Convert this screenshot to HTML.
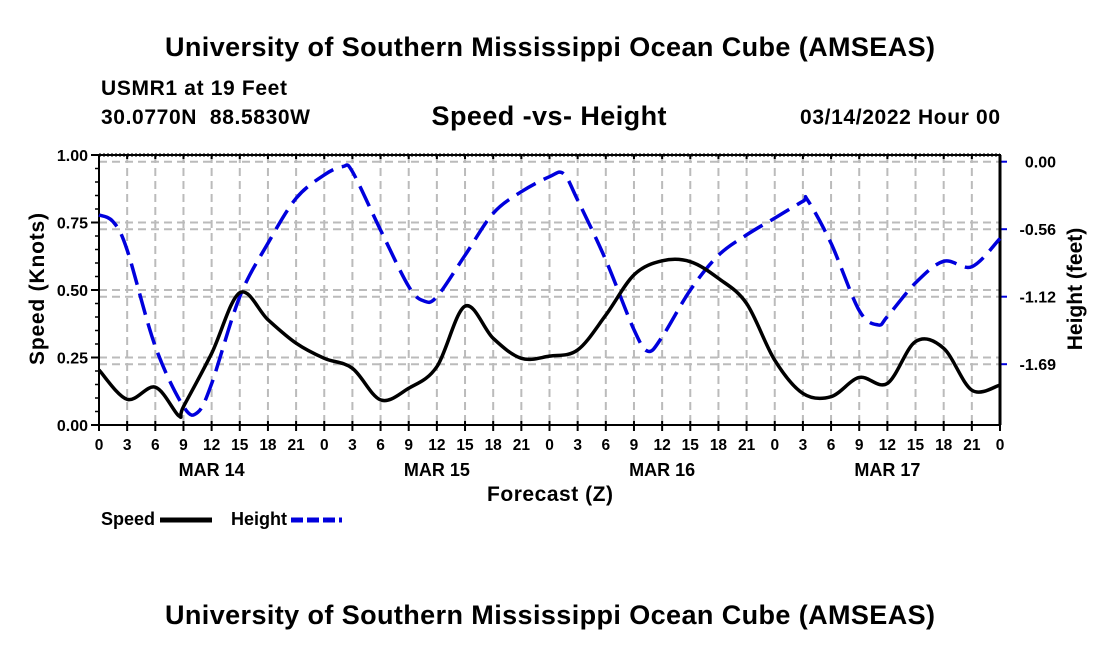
<!DOCTYPE html>
<html><head><meta charset="utf-8"><style>
body{margin:0;background:#fff;}
svg text{font-family:"Liberation Sans",sans-serif;font-weight:bold;}
</style></head><body>
<svg id="c" width="1100" height="650" xmlns="http://www.w3.org/2000/svg">
<text x="550" y="56" font-size="27" text-anchor="middle" textLength="770">University of Southern Mississippi Ocean Cube (AMSEAS)</text>
<text x="101" y="95" font-size="21" textLength="186">USMR1 at 19 Feet</text>
<text x="101" y="124" font-size="21" textLength="209" xml:space="preserve">30.0770N  88.5830W</text>
<text x="549" y="125" font-size="27" text-anchor="middle" textLength="235">Speed -vs- Height</text>
<text x="1000" y="124" font-size="21" text-anchor="end" textLength="200">03/14/2022 Hour 00</text>
<text x="550" y="624" font-size="27" text-anchor="middle" textLength="770">University of Southern Mississippi Ocean Cube (AMSEAS)</text>
<g id="grid"></g><g id="axes"></g><g id="series"></g>
<text x="550" y="501" font-size="21" text-anchor="middle" textLength="126">Forecast (Z)</text>
<text transform="translate(44,289) rotate(-90)" font-size="21" text-anchor="middle" textLength="152">Speed (Knots)</text>
<text transform="translate(1082,289) rotate(-90)" font-size="21" text-anchor="middle">Height (feet)</text>
<g><text x="101" y="525" font-size="18">Speed</text><line x1="160" y1="520" x2="212" y2="520" stroke="#000" stroke-width="5"/></g>
<g><text x="231" y="525" font-size="18">Height</text><line x1="291" y1="520" x2="342" y2="520" stroke="#0000dd" stroke-width="5" stroke-dasharray="12,4"/></g>
</svg>
<script>
const speedHours=[0,3,6,8.5,9,12,15,18,21,24,27,30,33,36,39,42,45,48,51,54,57,60,63,66,69,72,75,78,81,84,87,90,93,96];
const speedValues=[0.204,0.095,0.14,0.034,0.068,0.265,0.49,0.39,0.303,0.247,0.21,0.093,0.136,0.216,0.44,0.321,0.247,0.255,0.278,0.407,0.556,0.608,0.605,0.543,0.45,0.24,0.117,0.105,0.176,0.154,0.309,0.284,0.129,0.148];
const heightHours=[0,1.5,3,6,9,10.5,12,15,18,21,24,26,27,30,33,34.6,36,39,42,45,48,49.5,51,54,57,58.5,60,63,66,69,72,75,75.5,78,81,83,84,87,90,93,96];
const heightValues=[-0.444,-0.5,-0.736,-1.54,-2.04,-2.09,-1.85,-1.125,-0.68,-0.305,-0.11,-0.04,-0.083,-0.57,-1.04,-1.16,-1.125,-0.78,-0.43,-0.25,-0.125,-0.1,-0.32,-0.82,-1.40,-1.58,-1.46,-1.07,-0.78,-0.61,-0.47,-0.33,-0.32,-0.68,-1.24,-1.36,-1.29,-1.01,-0.83,-0.875,-0.64];
const leftTicks=[0,0.25,0.5,0.75,1.0];
const leftTickLabels=["0.00","0.25","0.50","0.75","1.00"];
const rightTicks=[0,-0.5625,-1.125,-1.6875];
const rightTickLabels=["0.00","-0.56","-1.12","-1.69"];
const xTickHours=[0,3,6,9,12,15,18,21,24,27,30,33,36,39,42,45,48,51,54,57,60,63,66,69,72,75,78,81,84,87,90,93,96];
const dayLabels=["MAR 14","MAR 15","MAR 16","MAR 17"];
const dayHours=[12,36,60,84];

const X0=99,X1=1000,Y0=155,Y1=425;
const xs=h=>X0+h*(X1-X0)/96;
const yl=v=>Y1-v*(Y1-Y0);
const yr=f=>161.7-f*120;
const NS="http://www.w3.org/2000/svg";
function mk(tag,attrs,parent){const e=document.createElementNS(NS,tag);for(const k in attrs)e.setAttribute(k,attrs[k]);document.getElementById(parent).appendChild(e);return e;}
const gd="#bbb";
xTickHours.forEach((h,i)=>{
 const g=mk('line',{x1:xs(h),x2:xs(h),y1:Y0,y2:Y1,stroke:gd,'stroke-width':2,'stroke-dasharray':'8,5'},'grid');
 
 
 const t=mk('line',{x1:xs(h),x2:xs(h),y1:Y1-4,y2:Y1+6,stroke:'#000','stroke-width':2},'axes');
 
 
 const t2=mk('line',{x1:xs(h),x2:xs(h),y1:Y0-1,y2:Y0+4,stroke:'#000','stroke-width':2},'axes');
 
 
 const l=mk('text',{x:xs(h),y:450,'font-size':15.5,'text-anchor':'middle'},'axes');
 l.textContent=String(h%24);
 
 
});
dayHours.forEach((h,i)=>{
 const l=mk('text',{x:xs(h),y:476,'font-size':18,'text-anchor':'middle'},'axes');
 l.textContent=dayLabels[i];
 
 
});
for(let k=1;k<20;k++){const v=k*0.05;
 const m=mk('line',{x1:X0-4,x2:X0,y1:yl(v),y2:yl(v),stroke:'#000','stroke-width':1.5},'axes');
 
 }
leftTicks.forEach((v,i)=>{
 if(v>0&&v<1){const g=mk('line',{x1:X0,x2:X1,y1:yl(v),y2:yl(v),stroke:gd,'stroke-width':2,'stroke-dasharray':'8,5'},'grid');
 
 }
 const t=mk('line',{x1:X0-8,x2:X0,y1:yl(v),y2:yl(v),stroke:'#000','stroke-width':2},'axes');
 
 
 const l=mk('text',{x:88,y:yl(v)+6,'font-size':16,'text-anchor':'end'},'axes');
 l.textContent=leftTickLabels[i];
 
 
});
rightTicks.forEach((f,i)=>{
 const g=mk('line',{x1:X0,x2:X1,y1:yr(f),y2:yr(f),stroke:gd,'stroke-width':2,'stroke-dasharray':'8,5'},'grid');
 
 
 const t=mk('line',{x1:X1,x2:X1+7,y1:yr(f),y2:yr(f),stroke:'#0000dd','stroke-width':2},'axes');
 
 
 const l=mk('text',{x:1056,y:yr(f)+6,'font-size':16,'text-anchor':'end'},'axes');
 l.textContent=rightTickLabels[i];
 
 
});
const fr=mk('rect',{x:X0,y:Y0,width:X1-X0,height:Y1-Y0,fill:'none',stroke:'#000','stroke-width':2},'axes');


const tb=mk('line',{x1:X0,x2:X1,y1:Y0,y2:Y0,stroke:'#000','stroke-width':3,'stroke-dasharray':'2,2'},'axes');


const rb=mk('line',{x1:X1,x2:X1,y1:Y0,y2:Y1,stroke:'#000','stroke-width':3},'axes');


function path(pts){let d=`M${pts[0][0]},${pts[0][1]}`;
 for(let i=0;i<pts.length-1;i++){const p0=pts[Math.max(0,i-1)],p1=pts[i],p2=pts[i+1],p3=pts[Math.min(pts.length-1,i+2)];
 d+=` C${p1[0]+(p2[0]-p0[0])/6},${p1[1]+(p2[1]-p0[1])/6} ${p2[0]-(p3[0]-p1[0])/6},${p2[1]-(p3[1]-p1[1])/6} ${p2[0]},${p2[1]}`;}
 return d;}
const hp=mk('path',{d:path(heightHours.map((h,i)=>[xs(h),yr(heightValues[i])])),fill:'none',stroke:'#0000dd','stroke-width':3.5,'stroke-dasharray':'22,9'},'series');


const sp=mk('path',{d:path(speedHours.map((h,i)=>[xs(h),yl(speedValues[i])])),fill:'none',stroke:'#000','stroke-width':3.5},'series');


</script>
</body></html>
